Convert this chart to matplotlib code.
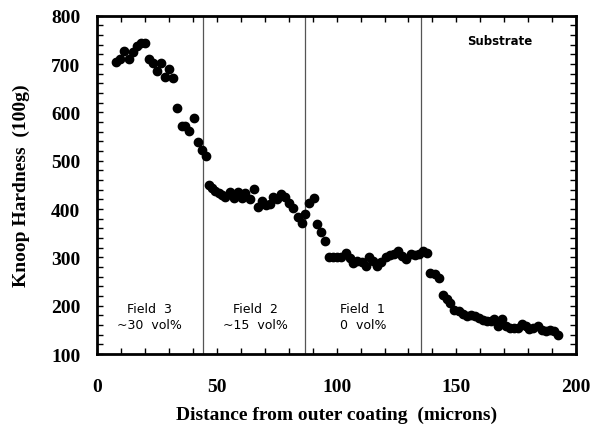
import matplotlib
matplotlib.use('Agg')
import matplotlib.pyplot as plt
from matplotlib.ticker import MultipleLocator

# hardness profile
distance = [7.9, 9.6, 11.4, 13.2, 14.9, 16.6, 18.3, 20.0, 21.6, 23.4,
            25.1, 26.8, 28.5, 30.1, 31.9, 33.6, 35.3, 36.9, 38.6, 40.5,
            42.0, 43.8, 45.5, 46.6, 48.0, 49.4, 50.8, 52.2, 53.6, 55.4,
            57.0, 58.7, 60.5, 61.9, 63.7, 65.4, 67.1, 68.7, 70.4, 72.1,
            73.5, 75.2, 76.9, 78.5, 80.3, 82.0, 83.7, 85.4, 87.0, 88.7,
            90.4, 91.9, 93.6, 95.1, 96.8, 98.5, 100.3, 102.0, 103.8, 105.4,
            107.0, 108.7, 110.5, 112.1, 113.5, 115.4, 117.0, 118.7, 120.5, 122.3,
            124.0, 125.6, 127.5, 129.1, 131.0, 132.6, 134.4, 136.2, 137.7, 139.1,
            141.0, 142.7, 144.2, 145.9, 147.4, 149.1, 150.9, 152.6, 154.3, 156.1,
            157.7, 159.3, 160.9, 162.6, 164.4, 165.8, 167.5, 169.0, 170.7, 172.4,
            174.1, 175.6, 177.3, 179.1, 180.5, 182.1, 184.0, 185.6, 187.4, 189.1,
            190.7, 192.3]
hardness = [705, 710, 727, 710, 725, 737, 743, 743, 710, 703,
            685, 703, 674, 689, 672, 610, 573, 573, 562, 589,
            538, 523, 510, 449, 444, 438, 434, 429, 425, 435,
            423, 435, 423, 434, 420, 442, 405, 416, 409, 411,
            425, 421, 431, 425, 412, 402, 384, 372, 389, 412,
            423, 369, 353, 335, 302, 302, 302, 302, 309, 298,
            288, 293, 290, 283, 300, 293, 283, 291, 300, 305,
            307, 314, 304, 297, 307, 305, 307, 314, 309, 267,
            266, 258, 222, 214, 205, 192, 190, 183, 178, 180,
            178, 174, 171, 168, 168, 173, 158, 173, 158, 155,
            155, 155, 162, 159, 152, 155, 159, 150, 148, 150,
            147, 140]

boundaries = [44.4, 86.8, 135.1]
field_x = [22, 66, 111]
field_labels = ['Field  3\n~30  vol%', 'Field  2\n~15  vol%', 'Field  1\n0  vol%']

serif = 'Liberation Serif'

fig = plt.figure(figsize=(5.91, 4.31), dpi=100)
ax = fig.add_axes([0.164, 0.176, 0.811, 0.785])

ax.plot(distance, hardness, 'o', color='black', markersize=6, zorder=3)

for b in boundaries:
    ax.axvline(b, color='#555555', linewidth=0.9, zorder=1)

for fx, lab in zip(field_x, field_labels):
    ax.text(fx, 178, lab, ha='center', va='center', fontsize=9,
            family='DejaVu Sans', linespacing=1.25)
ax.text(168, 748, 'Substrate', ha='center', va='center', fontsize=8.5,
        family='DejaVu Sans', fontweight='bold')

ax.set_xlim(0, 200)
ax.set_ylim(100, 800)
ax.xaxis.set_major_locator(MultipleLocator(50))
ax.xaxis.set_minor_locator(MultipleLocator(10))
ax.yaxis.set_major_locator(MultipleLocator(100))
ax.yaxis.set_minor_locator(MultipleLocator(20))
ax.tick_params(which='both', direction='in', top=True, right=True,
               length=4, width=1)
ax.tick_params(axis='x', pad=17)
ax.tick_params(axis='y', pad=12)
for lab in ax.get_xticklabels() + ax.get_yticklabels():
    lab.set_family(serif)
    lab.set_fontweight('bold')
    lab.set_fontsize(14)
for sp in ax.spines.values():
    sp.set_linewidth(2)

ax.set_xlabel('Distance from outer coating  (microns)', family=serif,
              fontweight='bold', fontsize=14, labelpad=8)
ax.set_ylabel('Knoop Hardness  (100g)', family=serif,
              fontweight='bold', fontsize=14, labelpad=15)

fig.savefig('out.png', dpi=100)
